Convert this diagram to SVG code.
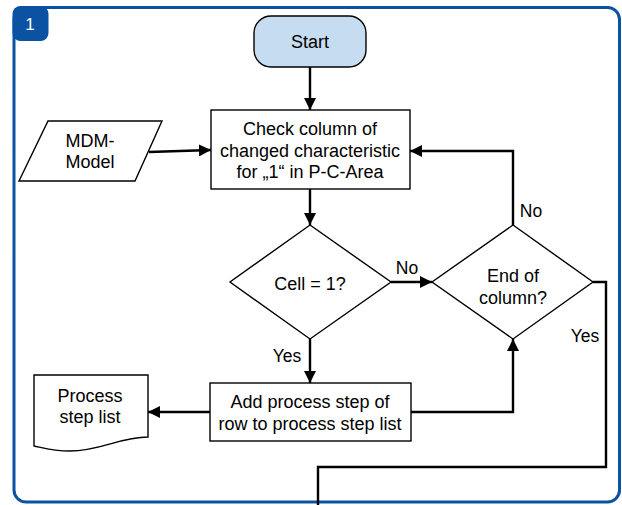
<svg xmlns="http://www.w3.org/2000/svg" width="622" height="505" viewBox="0 0 622 505">
  <defs>
    <style>
      text { font-family: "Liberation Sans", Arial, sans-serif; font-size: 18px; fill: #000; text-anchor: middle; }
      .lbl { font-size: 17.5px; }
      .node { fill: #fff; stroke: #000; stroke-width: 1.4; }
      .start { fill: #c6dcf1; stroke: #000; stroke-width: 1.4; }
      .edge { fill: none; stroke: #000; stroke-width: 2.4; }
      .frame { fill: none; stroke: #0b52a2; stroke-width: 3; }
      .badge { fill: #0b52a2; }
      .badge-text { fill: #fff; font-size: 17px; }
    </style>
    <marker id="arrow" viewBox="0 0 12 12" refX="12" refY="6" markerWidth="12" markerHeight="12" markerUnits="userSpaceOnUse" orient="auto">
      <path d="M0,0 L12,6 L0,12 Z" fill="#000"/>
    </marker>
  </defs>

  <!-- outer panel -->
  <rect class="frame" x="14" y="7.5" width="605.5" height="494.5" rx="12"/>
  <g id="badge">
    <rect class="badge" x="12.5" y="6" width="36" height="35" rx="8"/>
    <text class="badge-text" x="30" y="30">1</text>
  </g>

  <!-- connectors -->
  <g id="connectors">
    <line class="edge" x1="310" y1="67" x2="310" y2="110" marker-end="url(#arrow)"/>
    <line class="edge" x1="149" y1="152" x2="211" y2="150" marker-end="url(#arrow)"/>
    <line class="edge" x1="310" y1="189" x2="310" y2="225" marker-end="url(#arrow)"/>
    <line class="edge" x1="391" y1="282" x2="432" y2="282" marker-end="url(#arrow)"/>
    <polyline class="edge" points="513,225 513,151 410,151" marker-end="url(#arrow)"/>
    <polyline class="edge" points="593,282 606,282 606,467 318,467 318,505"/>
    <line class="edge" x1="310" y1="339" x2="310" y2="383" marker-end="url(#arrow)"/>
    <polyline class="edge" points="411,412 513,412 513,339" marker-end="url(#arrow)"/>
    <line class="edge" x1="210" y1="412" x2="148" y2="412" marker-end="url(#arrow)"/>
    <text class="lbl" x="407" y="274">No</text>
    <text class="lbl" x="531" y="217">No</text>
    <text class="lbl" x="585" y="342">Yes</text>
    <text class="lbl" x="287" y="362">Yes</text>
  </g>

  <g id="start">
    <rect class="start" x="254" y="16" width="112" height="51" rx="17"/>
    <text x="310" y="48">Start</text>
  </g>

  <g id="mdm-model">
    <polygon class="node" points="48,121 162,121 135,181 19,181"/>
    <text x="90" y="147">MDM-</text>
    <text x="90" y="168">Model</text>
  </g>

  <g id="check-column">
    <rect class="node" x="211" y="110" width="199" height="79"/>
    <text x="310" y="135">Check column of</text>
    <text x="310" y="157">changed characteristic</text>
    <text x="310" y="178">for „1“ in P-C-Area</text>
  </g>

  <g id="cell-check">
    <polygon class="node" points="310,225 391,282 310,339 230,282"/>
    <text x="310" y="290">Cell = 1?</text>
  </g>

  <g id="end-of-column">
    <polygon class="node" points="513,225 593,282 513,339 432,282"/>
    <text x="513" y="282">End of</text>
    <text x="513" y="304">column?</text>
  </g>

  <g id="add-step">
    <rect class="node" x="210" y="383" width="201" height="58"/>
    <text x="310" y="408">Add process step of</text>
    <text x="310" y="430">row to process step list</text>
  </g>

  <g id="process-step-list">
    <path class="node" d="M34,375 H148 V437 C120,437 100,451 70,451 C52,451 40,447 34,446 Z"/>
    <text x="90" y="402">Process</text>
    <text x="90" y="423">step list</text>
  </g>
</svg>
